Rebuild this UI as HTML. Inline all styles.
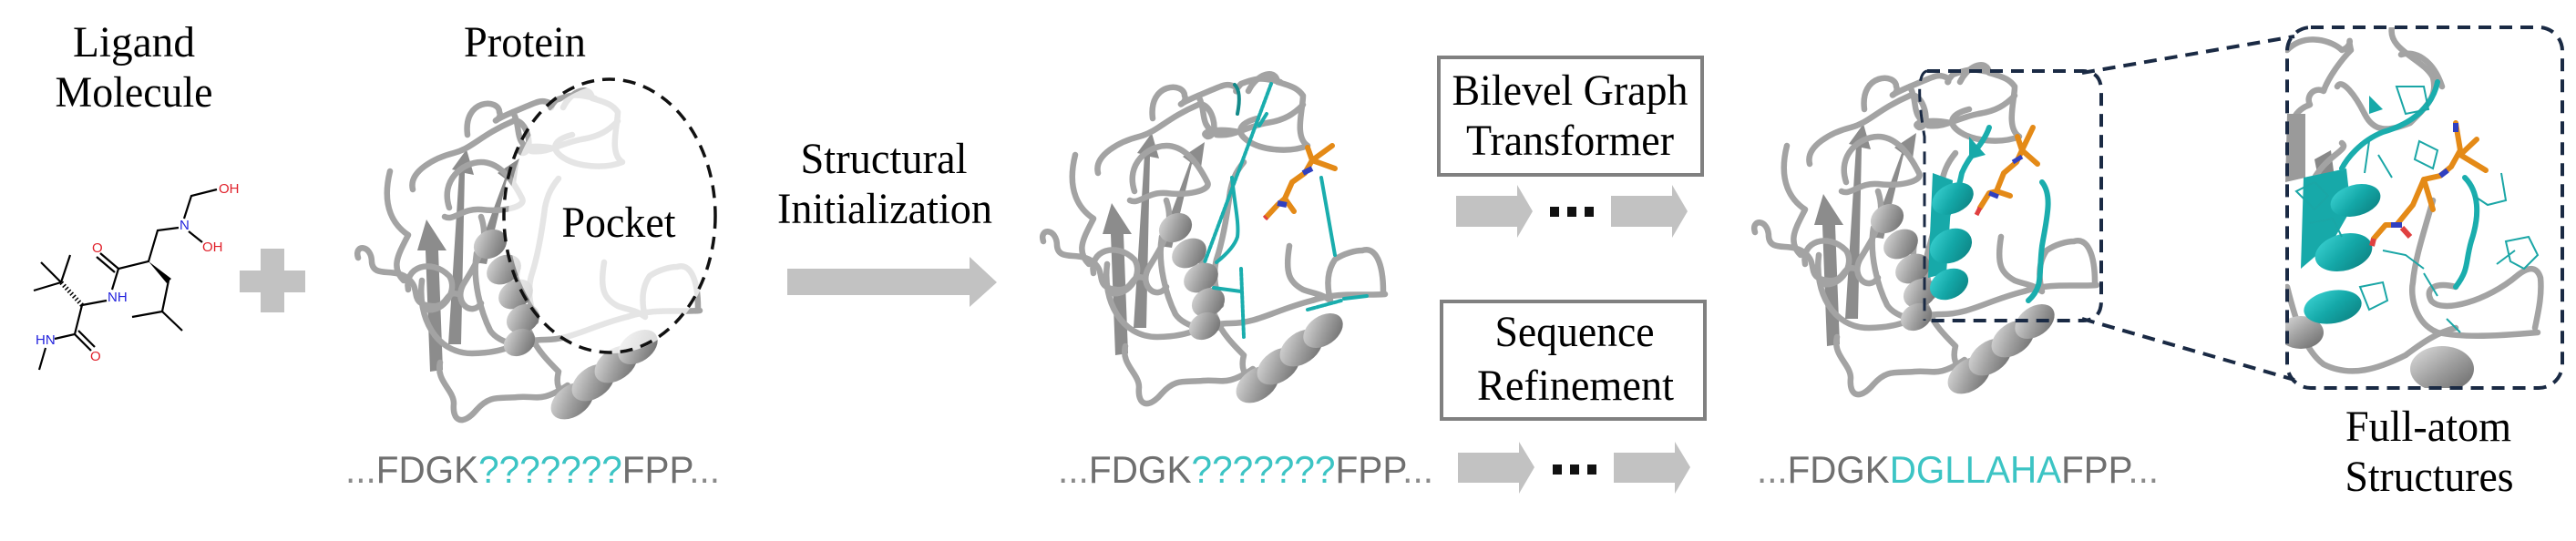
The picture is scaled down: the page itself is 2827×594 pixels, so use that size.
<!DOCTYPE html>
<html><head><meta charset="utf-8">
<style>
html,body{margin:0;padding:0;background:#fff;}
svg{display:block;}
.lbl{font-family:"Liberation Serif",serif;font-size:48px;fill:#000;text-anchor:middle;}
.seq{font-family:"Liberation Sans",sans-serif;font-size:42px;}
.loop{fill:none;stroke:#a3a3a3;stroke-width:6.5;stroke-linecap:round;stroke-linejoin:round;}
.strand{fill:#8c8c8c;}
.hel{fill:url(#hg);}
.thel{fill:url(#tg);}
.orange{fill:none;stroke:#e48a17;stroke-width:6;stroke-linecap:round;stroke-linejoin:round;}
.teal{fill:none;stroke:#1aadad;stroke-width:4;stroke-linecap:round;}
.tthin{fill:none;stroke:#1aa6a6;stroke-width:2;}
.mol{fill:none;stroke:#000;stroke-width:2.2;}
.atom{font-family:"Liberation Sans",sans-serif;font-size:15px;}
</style></head>
<body>
<svg width="2827" height="594" viewBox="0 0 2827 594" xmlns="http://www.w3.org/2000/svg">
<defs>
  <linearGradient id="hg" x1="0" y1="0" x2="1" y2="1">
    <stop offset="0" stop-color="#e0e0e0"/><stop offset="0.5" stop-color="#a0a0a0"/><stop offset="1" stop-color="#666"/>
  </linearGradient>
  <linearGradient id="tg" x1="0" y1="0" x2="1" y2="1">
    <stop offset="0" stop-color="#3fd6d6"/><stop offset="0.5" stop-color="#14a8a8"/><stop offset="1" stop-color="#0c7d7d"/>
  </linearGradient>
  <g id="protein">
    <polygon class="strand" points="84,330 98,328 93,197 102,197 80,163 70,197 79,197"/>
    <polygon class="strand" points="104,300 118,300 122,112 132,114 124,86 108,108 116,110"/>
    <polygon class="strand" points="132,210 146,212 168,120 178,124 182,96 158,112 166,118"/>
    <path class="loop" d="M5,205 C0,190 20,190 20,210 C22,228 45,215 60,228 C75,240 60,255 85,258 C105,260 100,240 115,245"/>
    <path class="loop" d="M125,70 C120,30 160,30 160,45 C165,55 140,60 175,45 C200,35 205,30 215,35 C222,40 210,45 222,32 C240,25 245,25 265,30"/>
    <path class="loop" d="M65,130 C60,110 90,95 110,90 C130,85 140,70 175,55 C190,50 200,90 185,90 C175,85 195,80 220,85"/>
    <path class="loop" d="M105,150 C95,120 120,100 140,100 C160,100 175,120 185,140 C190,150 160,155 140,152 C120,150 110,165 100,160"/>
    <path class="loop" d="M175,45 C185,65 175,75 195,88 C215,90 225,80 250,75 C270,72 280,65 290,55"/>
    <path class="loop" d="M230,40 C240,20 260,15 262,30 C280,35 285,38 290,45 C290,60 280,90 295,100 C275,108 245,105 230,95 C215,85 220,75 240,70"/>
    <path class="loop" d="M75,230 C70,270 90,310 130,310 C170,310 180,295 210,295 C240,295 260,280 300,270 C330,260 355,265 380,263"/>
    <path class="loop" d="M95,320 C90,340 110,350 110,365 C108,385 120,390 135,372 C150,355 160,360 180,358 C200,356 205,365 235,345"/>
    <path class="loop" d="M135,200 C130,230 140,265 150,285 C160,300 190,305 200,298"/>
    <path class="loop" d="M225,118 C215,130 212,140 210,150 C205,190 200,210 195,225 C190,245 195,260 200,275"/>
    <path class="loop" d="M180,215 C175,250 185,270 195,290 C200,305 215,320 225,330 C220,350 230,360 250,355"/>
    <path class="loop" d="M275,210 C270,240 275,250 290,258 C300,262 310,262 320,270 C315,250 318,235 325,225 C335,218 348,215 355,215 C370,210 378,230 378,260"/>
    <path class="loop" d="M60,240 C55,215 85,205 105,225 C115,240 100,265 80,262"/>
    <path class="loop" d="M140,160 C150,190 135,210 120,235 C110,255 130,270 140,255"/>
    <path class="loop" d="M40,110 C30,150 45,170 60,180 C50,200 40,215 55,230"/>
    <ellipse class="hel" cx="150" cy="190" rx="19" ry="15" transform="rotate(-30 150 190)"/>
    <ellipse class="hel" cx="165" cy="218" rx="20" ry="15" transform="rotate(-30 165 218)"/>
    <ellipse class="hel" cx="178" cy="245" rx="20" ry="15" transform="rotate(-30 178 245)"/>
    <ellipse class="hel" cx="186" cy="272" rx="19" ry="15" transform="rotate(-30 186 272)"/>
    <ellipse class="hel" cx="182" cy="298" rx="18" ry="14" transform="rotate(-30 182 298)"/>
    <ellipse class="hel" cx="240" cy="362" rx="26" ry="17" transform="rotate(-35 240 362)"/>
    <ellipse class="hel" cx="263" cy="342" rx="26" ry="17" transform="rotate(-35 263 342)"/>
    <ellipse class="hel" cx="288" cy="322" rx="26" ry="17" transform="rotate(-35 288 322)"/>
    <ellipse class="hel" cx="312" cy="303" rx="24" ry="16" transform="rotate(-35 312 303)"/>
  </g>
</defs>

<text class="lbl" x="147" y="62" textLength="134" lengthAdjust="spacingAndGlyphs">Ligand</text>
<text class="lbl" x="147" y="117" textLength="173" lengthAdjust="spacingAndGlyphs">Molecule</text>

<g>
  <polyline class="mol" points="238,208 210,215 202,240"/>
  <line class="mol" x1="207" y1="254" x2="222" y2="266"/>
  <polyline class="mol" points="196,250 173,253 163,287 130,295 123,318"/>
  <line class="mol" x1="130" y1="295" x2="110" y2="278"/>
  <line class="mol" x1="126" y1="299" x2="106" y2="282"/>
  <polygon points="163,287 188,306 183,311" fill="#000"/>
  <polyline class="mol" points="185,308 178,342 145,348"/>
  <line class="mol" x1="178" y1="342" x2="200" y2="363"/>
  <line class="mol" x1="117" y1="330" x2="90" y2="335"/>
  <line class="mol" x1="90" y1="335" x2="67" y2="310" stroke-dasharray="1.5 2.5" style="stroke-width:5"/>
  <line class="mol" x1="67" y1="310" x2="77" y2="280"/>
  <line class="mol" x1="67" y1="310" x2="45" y2="288"/>
  <line class="mol" x1="67" y1="310" x2="37" y2="319"/>
  <polyline class="mol" points="90,335 82,367 60,372"/>
  <line class="mol" x1="82" y1="367" x2="100" y2="385"/>
  <line class="mol" x1="86" y1="363" x2="104" y2="381"/>
  <line class="mol" x1="50" y1="382" x2="43" y2="406"/>
  <text class="atom" x="240" y="212" fill="#e0202a">OH</text>
  <text class="atom" x="197" y="252" fill="#2222dd">N</text>
  <text class="atom" x="222" y="276" fill="#e0202a">OH</text>
  <text class="atom" x="101" y="277" fill="#e0202a">O</text>
  <text class="atom" x="118" y="331" fill="#2222dd">NH</text>
  <text class="atom" x="39" y="378" fill="#2222dd">HN</text>
  <text class="atom" x="99" y="396" fill="#e0202a">O</text>
</g>

<g>
  <rect x="286" y="273" width="26" height="70" fill="#c2c2c2"/>
  <rect x="263" y="297" width="72" height="24" fill="#c2c2c2"/>
</g>

<text class="lbl" x="576" y="62" textLength="134" lengthAdjust="spacingAndGlyphs">Protein</text>
<g>
  <use href="#protein" transform="translate(388,78)"/>
  <ellipse cx="672" cy="240" rx="114" ry="148" fill="#fff" opacity="0.72"/>
  <ellipse cx="669" cy="237" rx="116" ry="150" fill="none" stroke="#111" stroke-width="3.5" stroke-dasharray="14 9"/>
  <text class="lbl" x="679" y="260" textLength="125" lengthAdjust="spacingAndGlyphs">Pocket</text>
</g>
<text class="seq" x="379" y="530" textLength="411" lengthAdjust="spacingAndGlyphs"><tspan fill="#8a8a8a">...</tspan><tspan fill="#6f6f6f">FDGK</tspan><tspan fill="#3cc4c4">???????</tspan><tspan fill="#6f6f6f">FPP</tspan><tspan fill="#8a8a8a">...</tspan></text>

<text class="lbl" x="970" y="190" textLength="183" lengthAdjust="spacingAndGlyphs">Structural</text>
<text class="lbl" x="971" y="245" textLength="236" lengthAdjust="spacingAndGlyphs">Initialization</text>
<polygon points="864,295 1064,295 1064,282 1094,310 1064,337 1064,324 864,324" fill="#c2c2c2"/>

<g transform="translate(1140,60)">
  <use href="#protein"/>
  <line class="teal" x1="255" y1="32" x2="182" y2="228" stroke-dasharray="3 2"/>
  <line class="teal" x1="250" y1="65" x2="242" y2="78"/>
  <path class="teal" d="M212,135 C215,165 220,185 218,200 C215,210 205,220 195,228"/>
  <line class="teal" x1="222" y1="235" x2="225" y2="310" stroke-dasharray="3 2"/>
  <line class="teal" x1="192" y1="256" x2="222" y2="260"/>
  <line class="teal" x1="310" y1="135" x2="325" y2="220"/>
  <line class="teal" x1="295" y1="280" x2="332" y2="270" stroke-dasharray="3 2"/>
  <line class="teal" x1="335" y1="268" x2="360" y2="265"/>
  <path class="teal" d="M215,33 C222,40 220,55 218,65" style="stroke:#138a8a"/>
  <polyline class="orange" points="250,178 262,165 270,158 278,140 292,130 300,116 295,102"/>
  <line class="orange" x1="300" y1="116" x2="322" y2="100"/>
  <line class="orange" x1="300" y1="116" x2="325" y2="125"/>
  <line class="orange" x1="270" y1="158" x2="280" y2="172"/>
  <line x1="290" y1="130" x2="300" y2="125" stroke="#3040c0" stroke-width="6"/>
  <line x1="262" y1="163" x2="272" y2="165" stroke="#3040c0" stroke-width="6"/>
  <line x1="250" y1="178" x2="248" y2="180" stroke="#e04040" stroke-width="6"/>
</g>
<text class="seq" x="1161" y="530" textLength="412" lengthAdjust="spacingAndGlyphs"><tspan fill="#8a8a8a">...</tspan><tspan fill="#6f6f6f">FDGK</tspan><tspan fill="#3cc4c4">???????</tspan><tspan fill="#6f6f6f">FPP</tspan><tspan fill="#8a8a8a">...</tspan></text>

<rect x="1579" y="63" width="289" height="129" fill="#fff" stroke="#808080" stroke-width="4"/>
<text class="lbl" x="1723" y="115" textLength="259" lengthAdjust="spacingAndGlyphs">Bilevel Graph</text>
<text class="lbl" x="1723" y="170" textLength="228" lengthAdjust="spacingAndGlyphs">Transformer</text>
<polygon points="1598,215 1665,215 1665,203 1682,232 1665,261 1665,249 1598,249" fill="#c2c2c2"/>
<g fill="#111">
  <rect x="1701" y="227" width="10" height="11"/><rect x="1720" y="227" width="10" height="11"/><rect x="1739" y="227" width="10" height="11"/>
</g>
<polygon points="1768,215 1835,215 1835,203 1852,232 1835,261 1835,249 1768,249" fill="#c2c2c2"/>

<rect x="1582" y="331" width="289" height="129" fill="#fff" stroke="#808080" stroke-width="4"/>
<text class="lbl" x="1728" y="380" textLength="175" lengthAdjust="spacingAndGlyphs">Sequence</text>
<text class="lbl" x="1729" y="439" textLength="216" lengthAdjust="spacingAndGlyphs">Refinement</text>
<polygon points="1600,497 1667,497 1667,485 1684,513 1667,542 1667,530 1600,530" fill="#c2c2c2"/>
<g fill="#111">
  <rect x="1704" y="510" width="10" height="11"/><rect x="1723" y="510" width="10" height="11"/><rect x="1742" y="510" width="10" height="11"/>
</g>
<polygon points="1771,497 1838,497 1838,485 1855,513 1838,542 1838,530 1771,530" fill="#c2c2c2"/>

<g transform="translate(1921,50)">
  <use href="#protein"/>
  <path class="teal" style="stroke-width:6" d="M262,90 C255,110 240,120 232,140 C228,160 222,175 210,200"/>
  <path class="teal" style="stroke-width:6" d="M320,150 C332,165 325,190 320,220 C316,250 322,265 305,280"/>
  <polygon points="200,140 222,148 215,250 195,255" fill="#17a9a9"/>
  <polygon points="240,100 258,120 240,125" fill="#17a9a9"/>
  <ellipse class="thel" cx="222" cy="168" rx="24" ry="16" transform="rotate(-25 222 168)"/>
  <ellipse class="thel" cx="220" cy="220" rx="24" ry="18" transform="rotate(-25 220 220)"/>
  <ellipse class="thel" cx="218" cy="262" rx="22" ry="16" transform="rotate(-25 218 262)"/>
  <polyline class="orange" points="252,178 262,162 270,160 278,140 292,128 298,115 293,100"/>
  <line class="orange" x1="298" y1="115" x2="310" y2="90"/>
  <line class="orange" x1="298" y1="115" x2="315" y2="130"/>
  <line class="orange" x1="270" y1="160" x2="285" y2="165"/>
  <line x1="288" y1="128" x2="298" y2="122" stroke="#3040c0" stroke-width="5"/>
  <line x1="262" y1="162" x2="272" y2="166" stroke="#3040c0" stroke-width="5"/>
  <line x1="252" y1="178" x2="248" y2="186" stroke="#e04040" stroke-width="5"/>
</g>
<path d="M2115,78 L2285,78 Q2306,78 2306,100 L2306,330 Q2306,352 2285,352 L2115,352" fill="none" stroke="#1a2a44" stroke-width="4" stroke-dasharray="14 9"/>
<path d="M2115,78 Q2100,80 2112,150 L2112,352" fill="none" stroke="#1a2a44" stroke-width="3" stroke-dasharray="14 9"/>
<line x1="2285" y1="80" x2="2518" y2="40" stroke="#1a2a44" stroke-width="4" stroke-dasharray="14 9"/>
<line x1="2285" y1="350" x2="2518" y2="417" stroke="#1a2a44" stroke-width="4" stroke-dasharray="14 9"/>
<text class="seq" x="1928" y="530" textLength="441" lengthAdjust="spacingAndGlyphs"><tspan fill="#8a8a8a">...</tspan><tspan fill="#6f6f6f">FDGK</tspan><tspan fill="#3cc4c4">DGLLAHA</tspan><tspan fill="#6f6f6f">FPP</tspan><tspan fill="#8a8a8a">...</tspan></text>

<clipPath id="zc"><rect x="2508" y="30" width="304" height="396" rx="26"/></clipPath>
<g clip-path="url(#zc)">
  <g transform="translate(2500,25)">
    <path class="loop" d="M10,30 C30,10 60,20 70,30 C85,25 75,10 80,30 C70,40 55,60 50,75 C40,70 30,80 35,90 C20,95 10,110 15,130"/>
    <path class="loop" d="M125,5 C120,30 160,40 170,60 C175,80 165,90 145,110 C120,120 105,120 95,100 C85,80 70,60 65,70"/>
    <path class="loop" d="M180,70 C170,40 150,30 135,35"/>
    <polygon points="10,100 30,100 30,170 8,175" fill="#9a9a9a"/>
    <polygon points="40,150 58,140 62,170 45,175" fill="#888"/>
    <path class="loop" d="M170,195 C160,230 150,260 148,285 C145,300 150,330 175,340 C200,345 230,345 285,340"/>
    <path class="loop" d="M195,290 C175,285 160,290 168,305 C180,320 230,305 262,278 C278,265 285,270 288,280 C290,300 285,320 282,335"/>
    <path class="loop" d="M10,290 C20,330 30,360 50,375 C80,390 110,380 140,365 C160,350 175,340 195,335"/>
    <path class="loop" d="M35,180 C50,145 80,140 70,132"/>
    <ellipse class="hel" cx="25" cy="340" rx="25" ry="18"/>
    <ellipse class="hel" cx="180" cy="380" rx="35" ry="25"/>
    <polygon points="28,170 75,160 80,205 60,240 25,270" fill="#17a9a9"/>
    <polygon points="100,80 115,95 100,100" fill="#17a9a9"/>
    <ellipse class="thel" cx="85" cy="195" rx="28" ry="17" transform="rotate(-15 85 195)"/>
    <ellipse class="thel" cx="72" cy="252" rx="32" ry="20" transform="rotate(-15 72 252)"/>
    <ellipse class="thel" cx="60" cy="312" rx="32" ry="18" transform="rotate(-10 60 312)"/>
    <path class="teal" style="stroke-width:6" d="M175,65 C170,90 150,110 115,120 C90,130 75,150 70,160"/>
    <path class="teal" style="stroke-width:6" d="M205,170 C220,185 222,210 212,240 C205,265 210,270 195,290"/>
    <path class="tthin" d="M130,70 L160,70 L165,95 L140,100 Z M155,130 L175,140 L170,160 L150,150 Z M20,185 L40,175 L55,190 L40,205 Z M35,220 L60,215 L70,235 M245,165 L250,195 L230,200 L215,190 M250,240 L275,235 L285,255 L270,270 L255,262 Z M115,250 L140,255 L160,270 M90,290 L115,285 L120,305 L100,315 Z M160,275 L175,300 M110,145 L125,170 M240,265 L260,250 M185,325 L200,340 M100,130 L95,165"/>
    <polyline class="orange" points="105,237 118,222 130,222 148,200 160,172 178,168 190,158 200,140 195,110"/>
    <line class="orange" x1="200" y1="145" x2="218" y2="128"/>
    <line class="orange" x1="200" y1="145" x2="228" y2="162"/>
    <line class="orange" x1="160" y1="172" x2="170" y2="205"/>
    <line x1="124" y1="222" x2="136" y2="222" stroke="#3040c0" stroke-width="6"/>
    <line x1="178" y1="168" x2="186" y2="162" stroke="#3040c0" stroke-width="6"/>
    <line x1="195" y1="120" x2="195" y2="110" stroke="#3040c0" stroke-width="6"/>
    <line x1="105" y1="237" x2="103" y2="245" stroke="#e04040" stroke-width="6"/>
    <line x1="136" y1="225" x2="145" y2="235" stroke="#e04040" stroke-width="6"/>
  </g>
</g>
<rect x="2510" y="30" width="302" height="396" rx="26" fill="none" stroke="#1a2a44" stroke-width="4" stroke-dasharray="14 9"/>
<text class="lbl" x="2665" y="484" textLength="182" lengthAdjust="spacingAndGlyphs">Full-atom</text>
<text class="lbl" x="2666" y="539" textLength="185" lengthAdjust="spacingAndGlyphs">Structures</text>
</svg>
</body></html>
